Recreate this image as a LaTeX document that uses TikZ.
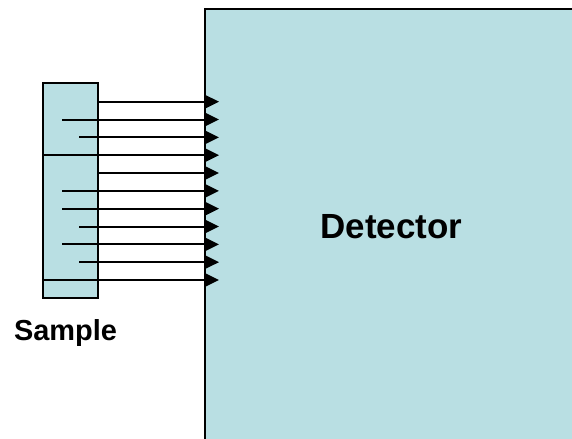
\documentclass[tikz,border=0pt]{standalone}
\usepackage{fontspec}
\setmainfont{Liberation Sans}
\usetikzlibrary{arrows.meta,positioning}
\definecolor{detblue}{HTML}{B9DFE3}

\begin{document}
\begin{tikzpicture}[
    x=0.75pt, y=-0.75pt,
    box/.style={fill=detblue, inner sep=0pt, outer sep=0pt},
    label/.style={font=\bfseries, inner sep=0pt},
    ray/.style={-{Triangle[length=10.5pt,width=10pt]}, line width=1.5pt, draw=black}
]
\useasboundingbox (0,0) rectangle (572,439);
\clip (0,0) rectangle (572,439);
\node[box, draw=black, line width=1.5pt, minimum width=296.25pt, minimum height=338.25pt] (det) at (402.5,234.5) {};
\node[label, font=\bfseries\fontsize{26.2}{30}\selectfont] (dettext) at (391.5,227) {Detector};
\node[box, draw=black, line width=1.1pt, minimum width=41.25pt, minimum height=161.25pt] (smp) at (70.5,190.5) {};
\node[label, font=\bfseries\fontsize{21.7}{26}\selectfont] (smptext) at (65.5,333) {Sample};
\foreach \i/\sx in {1/98,2/62,3/79,4/43,5/98,6/62,7/62,8/79,9/62,10/79,11/43}
  \coordinate (s\i) at (\sx,{101.7+17.83*(\i-1)});
\foreach \i in {1,...,11}
  \draw[ray] (s\i) -- ([xshift=10.5pt]s\i -| det.west);
\end{tikzpicture}
\end{document}
